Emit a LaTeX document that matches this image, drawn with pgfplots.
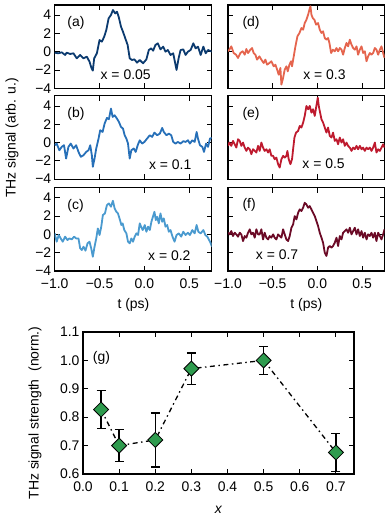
\documentclass[border=0pt]{standalone}
\usepackage{fontspec}
\setmainfont{Liberation Sans}
\usepackage{pgfplots}
\pgfplotsset{compat=1.18}

\definecolor{ca}{HTML}{0B3A6F}
\definecolor{cb}{HTML}{2770B8}
\definecolor{cc}{HTML}{4A9ACF}
\definecolor{cd}{HTML}{E5654E}
\definecolor{ce}{HTML}{BE1A2E}
\definecolor{cf}{HTML}{6B0A26}
\definecolor{mk}{HTML}{2E9B4E}

\newcommand\fs{\fontsize{14}{16}\selectfont}

\pgfplotsset{
  frame/.style={
    scale only axis,
    axis line style={line width=1.2bp},
    tick align=inside,
    major tick length=5bp,
    every tick/.style={black, line width=0.9bp},
    ticklabel style={font=\fs},
    xticklabel style={yshift=-4bp},
  },
  trace/.style={
    frame,
    width=157bp, height=83.3bp,
    xmin=-1, xmax=0.75, ymin=-4, ymax=5.1,
    xtick={-1,-0.5,0,0.5}, ytick={-4,-2,0,2,4},
    xticklabels={}, yticklabels={},
  },
  sig/.style={line width=1.8bp, no marks, line join=round},
}
\tikzset{lbl/.style={anchor=west, inner sep=0pt, font=\fs}}

\begin{document}
\begin{tikzpicture}[x=1bp, y=1bp]
\path[use as bounding box] (0,0) rectangle (389,522);

% (a)
\begin{axis}[trace, at={(54.7bp,433.7bp)}, yticklabels={−4,−2,0,2,4}]
\addplot[sig, ca] coordinates {
(-1.000,-0.11) (-0.959,-0.18) (-0.922,-0.07) (-0.884,-0.36) (-0.866,-0.11) (-0.828,-0.25)
(-0.791,-0.18) (-0.754,-0.73) (-0.716,-0.36) (-0.679,-0.73) (-0.642,-0.55) (-0.612,-1.09)
(-0.590,-1.80) (-0.575,-2.07) (-0.560,-0.73) (-0.530,-0.18) (-0.500,1.27) (-0.474,1.09)
(-0.448,1.64) (-0.425,2.36) (-0.399,3.64) (-0.373,4.00) (-0.351,4.55) (-0.325,4.18)
(-0.306,4.36) (-0.287,3.82) (-0.261,2.73) (-0.239,2.18) (-0.213,1.45) (-0.187,0.73)
(-0.164,-0.73) (-0.138,-0.91) (-0.112,-0.84) (-0.082,-1.20) (-0.052,-0.91) (-0.015,-1.27)
(0.022,-0.84) (0.049,0.18) (0.075,0.36) (0.097,0.11) (0.123,0.73) (0.149,0.91)
(0.179,0.25) (0.209,0.55) (0.235,0.00) (0.261,0.18) (0.291,-0.36) (0.321,-0.18)
(0.343,-1.27) (0.358,-2.00) (0.381,-0.73) (0.403,0.18) (0.433,0.25) (0.459,-0.36)
(0.485,0.00) (0.515,0.18) (0.545,0.91) (0.571,0.36) (0.597,0.55) (0.627,-0.36)
(0.657,0.55) (0.683,-0.18) (0.709,0.18) (0.754,0.00)
};
\node[lbl] at (axis cs:-0.86,3.1) {(a)};
\node[lbl] at (axis cs:-0.49,-2.55) {x = 0.05};
\end{axis}

% (b)
\begin{axis}[trace, at={(54.7bp,342.8bp)}, yticklabels={−4,−2,0,2,4}]
\addplot[sig, cb] coordinates {
(-1.000,-0.29) (-0.978,-0.11) (-0.948,-0.84) (-0.922,-0.47) (-0.896,-0.29) (-0.873,-1.75)
(-0.847,-0.47) (-0.821,-0.11) (-0.791,-0.65) (-0.761,-0.29) (-0.735,-1.02) (-0.709,-1.56)
(-0.679,-1.38) (-0.649,-1.02) (-0.623,-0.84) (-0.604,-0.29) (-0.586,-1.38) (-0.575,-2.65)
(-0.556,-1.75) (-0.537,-0.65) (-0.511,0.44) (-0.493,1.35) (-0.466,1.16) (-0.444,2.07)
(-0.418,2.69) (-0.396,2.55) (-0.373,3.71) (-0.354,2.80) (-0.332,2.98) (-0.306,2.62)
(-0.284,2.25) (-0.261,1.71) (-0.239,1.53) (-0.220,0.80) (-0.201,0.44) (-0.183,-0.11)
(-0.164,-1.75) (-0.146,-0.84) (-0.119,-0.65) (-0.097,-1.02) (-0.075,-0.29) (-0.052,0.25)
(-0.026,-0.11) (0.000,0.07) (0.030,0.44) (0.060,0.80) (0.086,0.62) (0.112,1.09)
(0.142,0.80) (0.172,0.98) (0.198,1.60) (0.216,1.16) (0.246,0.80) (0.272,0.98)
(0.299,0.80) (0.321,0.07) (0.347,-0.11) (0.373,0.07) (0.403,-0.11) (0.433,0.15)
(0.459,0.07) (0.485,0.25) (0.507,-0.11) (0.534,0.25) (0.560,0.07) (0.582,1.16)
(0.597,0.44) (0.619,-0.29) (0.646,-0.47) (0.664,-1.02) (0.687,-0.11) (0.709,-0.47)
(0.731,0.44) (0.754,0.51)
};
\node[lbl] at (axis cs:-0.86,3.15) {(b)};
\node[lbl] at (axis cs:0.05,-2.47) {x = 0.1};
\end{axis}

% (c)
\begin{axis}[trace, at={(54.7bp,251bp)}, yticklabels={−4,−2,0,2,4},
  xticklabels={−1.0,−0.5,0.0,0.5}]
\addplot[sig, cc] coordinates {
(-1.000,0.11) (-0.978,-0.80) (-0.955,-0.07) (-0.933,-0.44) (-0.910,-0.80) (-0.884,-0.25)
(-0.858,-0.62) (-0.836,-0.44) (-0.810,-0.55) (-0.784,-0.25) (-0.761,-0.44) (-0.735,-0.44)
(-0.716,-1.53) (-0.698,-1.71) (-0.679,-1.35) (-0.657,-1.78) (-0.634,-0.98) (-0.612,-0.80)
(-0.593,-1.53) (-0.575,-2.44) (-0.556,-1.35) (-0.537,-0.44) (-0.519,0.65) (-0.500,-0.07)
(-0.481,0.84) (-0.463,2.11) (-0.440,2.29) (-0.418,3.20) (-0.396,3.38) (-0.373,3.02)
(-0.351,3.67) (-0.332,2.84) (-0.313,2.47) (-0.295,2.29) (-0.272,1.56) (-0.257,1.02)
(-0.243,1.20) (-0.224,0.47) (-0.201,0.11) (-0.183,-0.80) (-0.164,-0.98) (-0.146,-0.44)
(-0.127,-0.80) (-0.108,-0.25) (-0.090,0.11) (-0.071,-0.07) (-0.052,1.20) (-0.037,0.84)
(-0.019,0.47) (0.004,1.02) (0.022,0.29) (0.041,0.84) (0.060,0.47) (0.078,1.38)
(0.097,2.00) (0.112,2.47) (0.127,1.56) (0.142,1.93) (0.160,1.20) (0.179,2.29)
(0.198,1.38) (0.216,1.75) (0.235,0.84) (0.254,1.02) (0.272,0.29) (0.291,0.47)
(0.313,-0.25) (0.336,-0.80) (0.358,-0.07) (0.384,0.11) (0.410,-0.25) (0.433,0.29)
(0.459,-0.07) (0.485,0.18) (0.507,-0.07) (0.534,0.47) (0.560,0.11) (0.582,1.02)
(0.601,0.29) (0.627,0.11) (0.657,0.47) (0.679,-0.07) (0.701,-0.25) (0.731,-0.80)
(0.754,-1.35)
};
\node[lbl] at (axis cs:-0.86,3.15) {(c)};
\node[lbl] at (axis cs:0.04,-2.36) {x = 0.2};
\end{axis}

% (d)
\begin{axis}[trace, at={(228bp,433.7bp)}, width=156.5bp]
\addplot[sig, cd] coordinates {
(-1.000,0.04) (-0.985,0.22) (-0.963,0.58) (-0.937,-0.15) (-0.910,-0.33) (-0.888,-0.69)
(-0.862,-0.15) (-0.836,0.04) (-0.813,-0.33) (-0.795,0.29) (-0.776,-0.15) (-0.750,0.22)
(-0.731,0.40) (-0.713,-0.15) (-0.694,-0.33) (-0.675,-0.87) (-0.649,-0.51) (-0.627,-0.87)
(-0.601,-1.24) (-0.582,-0.87) (-0.563,-1.42) (-0.537,-1.24) (-0.515,-1.05) (-0.489,-1.60)
(-0.470,-1.42) (-0.451,-1.96) (-0.433,-2.51) (-0.414,-1.78) (-0.403,-3.60) (-0.384,-2.87)
(-0.366,-1.96) (-0.347,-1.60) (-0.332,-2.15) (-0.313,-1.42) (-0.295,-1.05) (-0.284,-1.60)
(-0.265,-0.51) (-0.246,0.58) (-0.224,1.67) (-0.201,2.04) (-0.179,2.58) (-0.160,2.40)
(-0.142,3.13) (-0.123,3.49) (-0.104,4.04) (-0.090,4.58) (-0.078,4.95) (-0.067,4.04)
(-0.052,3.67) (-0.034,3.49) (-0.015,2.95) (0.007,3.13) (0.026,2.40) (0.045,2.04)
(0.063,2.22) (0.082,1.49) (0.101,1.31) (0.119,1.49) (0.134,0.95) (0.153,-0.15)
(0.172,0.22) (0.194,0.04) (0.213,0.40) (0.231,0.04) (0.250,0.40) (0.269,0.22)
(0.287,-0.33) (0.306,0.40) (0.325,0.95) (0.343,0.58) (0.362,1.31) (0.381,0.76)
(0.399,0.40) (0.418,0.22) (0.437,0.58) (0.455,-0.33) (0.474,0.22) (0.493,0.58)
(0.511,-0.15) (0.530,0.04) (0.549,-1.05) (0.567,-0.51) (0.586,-0.15) (0.604,-0.33)
(0.623,-0.15) (0.642,0.40) (0.660,0.22) (0.679,-0.33) (0.698,0.22) (0.716,0.58)
(0.735,-0.15) (0.750,-0.69)
};
\node[lbl] at (axis cs:-0.84,3.13) {(d)};
\node[lbl] at (axis cs:-0.16,-2.5) {x = 0.3};
\end{axis}

% (e)
\begin{axis}[trace, at={(228bp,342.8bp)}, width=156.5bp]
\addplot[sig, ce] coordinates {
(-1.000,-0.36) (-0.985,0.00) (-0.963,-0.36) (-0.944,0.18) (-0.925,-0.18) (-0.907,-0.55)
(-0.888,0.36) (-0.869,0.18) (-0.851,-0.36) (-0.832,0.00) (-0.813,-0.55) (-0.795,-0.91)
(-0.776,-0.55) (-0.757,-0.73) (-0.739,-1.27) (-0.720,-0.73) (-0.701,-0.91) (-0.683,-1.09)
(-0.664,-0.36) (-0.646,-0.91) (-0.627,0.00) (-0.608,-0.55) (-0.590,-0.91) (-0.571,-0.73)
(-0.552,-1.09) (-0.534,-0.73) (-0.515,-1.45) (-0.496,-1.45) (-0.478,-1.82) (-0.459,-1.64)
(-0.440,-2.36) (-0.422,-2.73) (-0.403,-1.82) (-0.384,-1.45) (-0.366,-1.64) (-0.347,-1.45)
(-0.336,-0.91) (-0.321,-1.82) (-0.302,-2.36) (-0.284,-1.82) (-0.272,-0.73) (-0.257,0.55)
(-0.239,1.09) (-0.216,1.27) (-0.198,1.82) (-0.179,1.64) (-0.160,2.18) (-0.142,2.91)
(-0.123,4.00) (-0.104,3.64) (-0.086,4.00) (-0.067,3.27) (-0.049,3.64) (-0.030,2.91)
(-0.015,3.82) (0.004,4.91) (0.015,4.00) (0.026,3.45) (0.045,2.55) (0.063,2.18)
(0.082,1.64) (0.101,1.09) (0.119,1.64) (0.138,0.73) (0.157,0.55) (0.175,1.09)
(0.194,0.18) (0.213,0.36) (0.231,-0.18) (0.250,0.55) (0.269,0.00) (0.287,0.36)
(0.306,-0.36) (0.325,0.00) (0.343,-0.36) (0.362,-0.55) (0.381,-0.91) (0.399,-0.55)
(0.418,-0.73) (0.437,-0.36) (0.455,-0.73) (0.474,-0.36) (0.493,-0.73) (0.511,-0.55)
(0.530,-0.91) (0.549,-0.55) (0.567,-0.73) (0.586,-0.55) (0.604,-0.91) (0.623,-0.55)
(0.642,0.00) (0.660,-1.09) (0.679,-0.73) (0.698,-0.91) (0.716,-0.55) (0.735,-0.18)
(0.750,-0.55)
};
\node[lbl] at (axis cs:-0.84,3.15) {(e)};
\node[lbl] at (axis cs:-0.17,-2.36) {x = 0.5};
\end{axis}

% (f)
\begin{axis}[trace, at={(228bp,251bp)}, width=156.5bp,
  xticklabels={−1.0,−0.5,0.0,0.5}]
\addplot[sig, cf] coordinates {
(-1.000,0.18) (-0.981,0.00) (-0.963,0.36) (-0.944,-0.18) (-0.925,0.18) (-0.907,0.00)
(-0.888,-0.25) (-0.869,0.18) (-0.851,0.00) (-0.832,-0.73) (-0.813,-0.18) (-0.795,-0.36)
(-0.776,0.18) (-0.757,0.55) (-0.739,0.00) (-0.720,0.18) (-0.701,-0.36) (-0.683,0.55)
(-0.664,0.00) (-0.646,0.00) (-0.627,0.55) (-0.608,-0.55) (-0.590,0.18) (-0.571,-0.36)
(-0.552,-0.55) (-0.534,-0.18) (-0.515,-0.36) (-0.496,0.00) (-0.478,-0.36) (-0.459,-0.55)
(-0.440,0.00) (-0.422,-0.18) (-0.403,-0.36) (-0.384,0.55) (-0.366,0.00) (-0.347,-0.55)
(-0.328,-0.73) (-0.310,-0.18) (-0.291,0.73) (-0.272,1.09) (-0.254,2.00) (-0.235,1.64)
(-0.216,2.36) (-0.198,2.73) (-0.179,2.55) (-0.160,2.91) (-0.142,3.45) (-0.123,3.27)
(-0.104,2.91) (-0.086,3.09) (-0.067,2.73) (-0.049,2.36) (-0.030,2.00) (-0.011,1.45)
(0.007,0.91) (0.026,0.18) (0.045,-0.36) (0.063,-0.91) (0.082,-2.00) (0.101,-2.36)
(0.119,-1.45) (0.138,-1.27) (0.157,-1.45) (0.175,-1.27) (0.194,-0.91) (0.213,-0.36)
(0.231,-1.27) (0.250,-0.18) (0.269,-0.55) (0.287,0.18) (0.306,0.36) (0.325,0.55)
(0.343,0.18) (0.362,0.73) (0.381,0.00) (0.399,0.36) (0.418,0.73) (0.437,0.00)
(0.455,0.55) (0.474,-0.18) (0.493,0.36) (0.511,-0.36) (0.530,0.18) (0.549,-0.55)
(0.567,0.00) (0.586,-0.18) (0.604,0.18) (0.623,-0.36) (0.642,0.18) (0.660,-0.73)
(0.679,0.18) (0.698,-0.18) (0.716,-0.55) (0.735,0.00) (0.750,0.55)
};
\node[lbl] at (axis cs:-0.84,3.2) {(f)};
\node[lbl] at (axis cs:-0.69,-2.18) {x = 0.7};
\end{axis}

% (g)
\begin{axis}[frame, at={(83bp,48bp)}, width=271bp, height=142bp,
  xmin=0, xmax=0.75, ymin=0.6, ymax=1.1,
  xtick={0,0.1,0.2,0.3,0.4,0.5,0.6,0.7},
  xticklabels={0.0,0.1,0.2,0.3,0.4,0.5,0.6,0.7},
  ytick={0.6,0.7,0.8,0.9,1.0,1.1},
  yticklabels={0.6,0.7,0.8,0.9,1.0,1.1},
  clip=false]
\addplot[black, line width=1.3bp, dash pattern=on 5bp off 3.5bp on 1.5bp off 3.5bp, no marks]
  coordinates {(0.05,0.827) (0.1,0.700) (0.2,0.720) (0.3,0.971) (0.5,1.000) (0.7,0.676)};
\addplot[only marks, mark=square*, mark size=5.3bp,
  mark options={rotate=45, fill=mk, draw=black, line width=0.8bp},
  error bars/.cd, y dir=both, y explicit,
  error bar style={black, line width=1.5bp},
  error mark options={rotate=90, mark size=4.5bp, line width=1.3bp, black}]
  coordinates {
  (0.05,0.827) +- (0,0.068)
  (0.1,0.700) +- (0,0.057)
  (0.2,0.720) +- (0,0.095)
  (0.3,0.971) +- (0,0.055)
  (0.5,1.000) +- (0,0.049)
  (0.7,0.676) +- (0,0.067)
  };
\node[lbl] at (axis cs:0.027,1.01) {(g)};
\end{axis}

% labels
\node[font=\fs] at (133.4,217) {t (ps)};
\node[font=\fs] at (306.3,217) {t (ps)};
\node[font=\fs, rotate=90] at (12,384) {THz signal (arb. u.)};
\node[font=\fs, rotate=90] at (35,109) {THz signal strength\ \ (norm.)};
\node[font=\fs] at (218.5,12) {\textit{x}};
\end{tikzpicture}
\end{document}
